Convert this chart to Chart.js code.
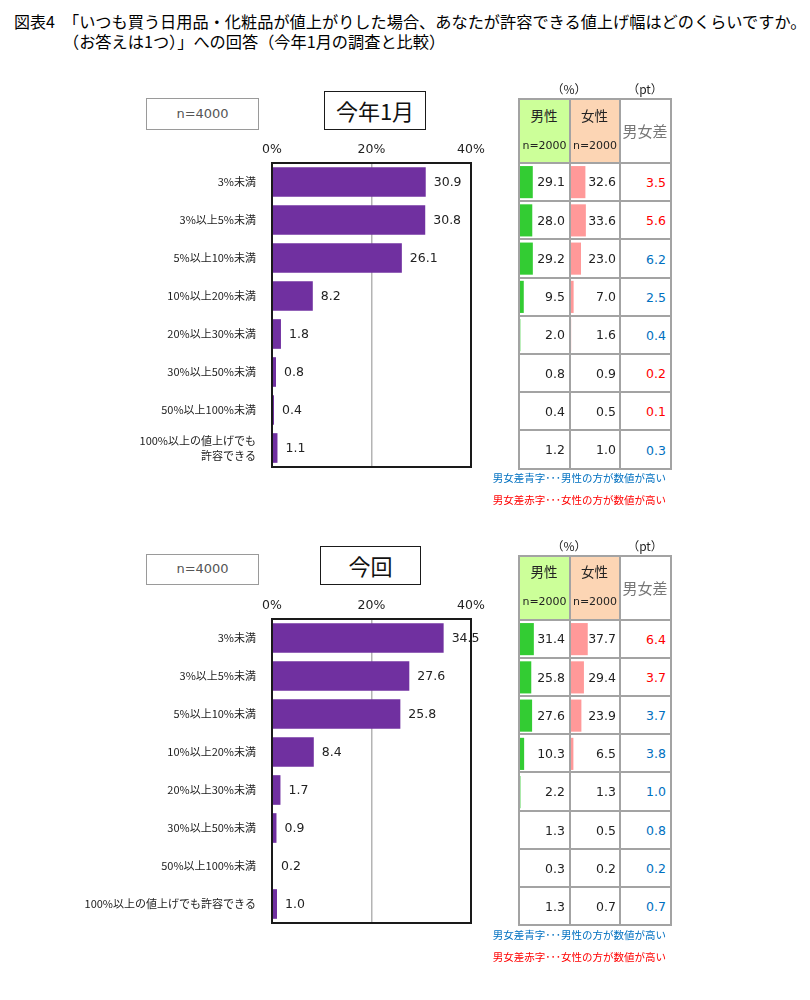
<!DOCTYPE html>
<html><head><meta charset="utf-8">
<script src="https://cdn.jsdelivr.net/npm/chart.js@4.4.1/dist/chart.umd.min.js"></script>
<style>
body{margin:0;background:#fff;}
#page{position:relative;width:810px;height:1000px;overflow:hidden;font-family:'Noto Sans CJK JP',sans-serif;color:#222;background:#fff;}
.a{position:absolute;white-space:nowrap;box-sizing:border-box;}
canvas{position:absolute;}
</style></head><body><div id="page"></div>
<script>
// ---------- DATA ----------
const categoriesJan = ['3%未満','3%以上5%未満','5%以上10%未満','10%以上20%未満','20%以上30%未満','30%以上50%未満','50%以上100%未満',['100%以上の値上げでも','許容できる']];
const categoriesNow = ['3%未満','3%以上5%未満','5%以上10%未満','10%以上20%未満','20%以上30%未満','30%以上50%未満','50%以上100%未満','100%以上の値上げでも許容できる'];
const totalJan  = [30.9, 30.8, 26.1, 8.2, 1.8, 0.8, 0.4, 1.1];
const maleJan   = [29.1, 28.0, 29.2, 9.5, 2.0, 0.8, 0.4, 1.2];
const femaleJan = [32.6, 33.6, 23.0, 7.0, 1.6, 0.9, 0.5, 1.0];
const diffJan   = [3.5, 5.6, 6.2, 2.5, 0.4, 0.2, 0.1, 0.3];
const totalNow  = [34.5, 27.6, 25.8, 8.4, 1.7, 0.9, 0.2, 1.0];
const maleNow   = [31.4, 25.8, 27.6, 10.3, 2.2, 1.3, 0.3, 1.3];
const femaleNow = [37.7, 29.4, 23.9, 6.5, 1.3, 0.5, 0.2, 0.7];
const diffNow   = [6.4, 3.7, 3.7, 3.8, 1.0, 0.8, 0.2, 0.7];
const xTicks = [0, 20, 40];
const titleLine0 = '図表4';
const titleLine1 = '「いつも買う日用品・化粧品が値上がりした場合、あなたが許容できる値上げ幅はどのくらいですか。';
const titleLine2 = '（お答えは1つ）」への回答（今年1月の調査と比較）';
const sampleLabel = 'n=4000';
const periodJan = '今年1月';
const periodNow = '今回';
const headMale = '男性', headFemale = '女性', headDiff = '男女差', headN = 'n=2000';
const unitPct = '（%）', unitPt = '（pt）';
const noteBlue = '男女差青字･･･男性の方が数値が高い';
const noteRed = '男女差赤字･･･女性の方が数値が高い';

// ---------- HELPERS ----------
const page = document.getElementById('page');
const NUMF = "'DejaVu Sans','Noto Sans CJK JP',sans-serif";
const JPF = "'Noto Sans CJK JP',sans-serif";
function div(css, txt){ const e=document.createElement('div'); e.className='a'; Object.assign(e.style, css); if(txt!=null) e.textContent=txt; page.appendChild(e); return e; }
function text(x, y, str, o){
  const h = 30;
  const css = {top:(y-h/2)+'px', height:h+'px', lineHeight:h+'px', fontSize:o.size+'px', color:o.color||'#222', fontFamily:o.family||JPF};
  if(o.align==='left') css.left = x+'px';
  else if(o.align==='right') css.right = (810-x)+'px';
  else { css.left=(x-200)+'px'; css.width='400px'; css.textAlign='center'; }
  return div(css, str);
}
function box(l,t,w,h,border,str,size,color){
  return div({left:l+'px',top:t+'px',width:w+'px',height:h+'px',border:border,textAlign:'center',lineHeight:(h-3)+'px',fontSize:size+'px',color:color,fontFamily:NUMF}, str);
}

// ---------- TITLE ----------
text(14, 21, titleLine0, {size:16, align:'left', color:'#000'});
text(63, 21, titleLine1, {size:16.2, align:'left', color:'#000'});
text(63, 41, titleLine2, {size:16.2, align:'left', color:'#000'});

// ---------- MAIN CHARTS ----------
const valueLabels = {
  id:'valueLabels',
  afterDatasetsDraw(chart){
    const ctx = chart.ctx; const meta = chart.getDatasetMeta(0); const data = chart.data.datasets[0].data;
    ctx.save(); ctx.font = '12.5px ' + NUMF; ctx.fillStyle = '#222'; ctx.textAlign='left'; ctx.textBaseline='middle';
    meta.data.forEach((bar,i)=>{ ctx.fillText(data[i].toFixed(1), bar.x + 8, bar.y + 1); });
    ctx.restore();
  },
  afterDraw(chart){
    const a = chart.chartArea, ctx = chart.ctx;
    ctx.save(); ctx.strokeStyle='#1a1a1a'; ctx.lineWidth=2;
    ctx.strokeRect(a.left, a.top, a.right-a.left, a.bottom-a.top); ctx.restore();
  }
};
function mainChart(top, labels, values){
  const c = document.createElement('canvas'); c.width=490; c.height=345;
  c.style.left='0px'; c.style.top=top+'px'; page.appendChild(c);
  new Chart(c, {
    type:'bar',
    data:{labels:labels, datasets:[{data:values, backgroundColor:'#7030a0', borderWidth:0, barPercentage:0.78, categoryPercentage:1}]},
    options:{
      responsive:false, animation:false, devicePixelRatio:1, indexAxis:'y',
      layout:{padding:{left:0,top:0,right:19,bottom:8}},
      plugins:{legend:{display:false}, tooltip:{enabled:false}},
      scales:{
        x:{position:'top', min:xTicks[0], max:xTicks[xTicks.length-1],
           afterBuildTicks(s){ s.ticks = xTicks.map(v=>({value:v})); },
           ticks:{callback:v=>v+'%', font:{size:12.5, family:NUMF}, color:'#222', padding:6, maxRotation:0},
           grid:{drawTicks:false, lineWidth:1.5, color:ctx=> (ctx.tick && ctx.tick.value===20) ? '#b4b4b4' : 'rgba(0,0,0,0)'},
           border:{display:false},
           afterFit(s){ s.height = 33; s.paddingLeft = 0; s.paddingRight = 0; }},
        y:{ticks:{font:{size:11, family:JPF, lineHeight:1.35}, color:'#222', padding:16},
           grid:{display:false, drawTicks:false}, border:{display:false},
           afterFit(s){ s.width = 272; s.paddingTop = 0; s.paddingBottom = 0; }}
      }
    },
    plugins:[valueLabels]
  });
}
mainChart(130, categoriesJan, totalJan);
mainChart(586, categoriesNow, totalNow);

// label boxes
box(146, 98, 113, 32, '1.5px solid #9a9a9a', sampleLabel, 13, '#555');
box(324, 91, 102, 39, '1.5px solid #1a1a1a', periodJan, 22, '#111').style.fontFamily=JPF;
box(146, 554, 113, 31, '1.5px solid #9a9a9a', sampleLabel, 13, '#555');
box(320, 546, 101, 39, '1.5px solid #1a1a1a', periodNow, 22, '#111').style.fontFamily=JPF;

// ---------- TABLES ----------
const cellText = {
  id:'cellText',
  afterDatasetsDraw(chart){
    const ctx = chart.ctx; const meta = chart.getDatasetMeta(0); const data = chart.data.datasets[0].data;
    ctx.save(); ctx.font = '12.5px ' + NUMF; ctx.fillStyle='#222'; ctx.textAlign='right'; ctx.textBaseline='middle';
    meta.data.forEach((bar,i)=>{ ctx.fillText(data[i].toFixed(1), chart.chartArea.left + 45, bar.y + 1); });
    ctx.restore();
  }
};
function dataBarChart(left, top, height, values, color){
  const c = document.createElement('canvas'); c.width=48; c.height=height;
  c.style.left=left+'px'; c.style.top=top+'px'; page.appendChild(c);
  new Chart(c, {
    type:'bar',
    data:{labels:values.map((v,i)=>i), datasets:[{data:values, backgroundColor:color, borderWidth:0, barPercentage:0.84, categoryPercentage:1}]},
    options:{responsive:false, animation:false, devicePixelRatio:1, indexAxis:'y',
      layout:{padding:0}, plugins:{legend:{display:false}, tooltip:{enabled:false}},
      scales:{x:{display:false, min:1.3, max:1.3 + 48/0.46}, y:{display:false}}},
    plugins:[cellText]
  });
}
function table(top, male, female, diff){
  const xs = [518, 568.5, 619, 669.5];
  const headH = 64, rowH = 38.2, n = male.length;
  const bottom = top + headH + rowH*n;
  div({left:'520px', top:(top+2)+'px', width:'48.5px', height:(headH-2)+'px', background:'#ccff99'});
  div({left:'570.5px', top:(top+2)+'px', width:'48.5px', height:(headH-2)+'px', background:'#fcd5b4'});
  const lc = '#a3a3a3';
  xs.forEach(x=>div({left:x+'px', top:top+'px', width:'2px', height:(bottom-top+2)+'px', background:lc}));
  const ys = [top, top+headH]; for(let i=1;i<=n;i++) ys.push(top+headH+rowH*i);
  ys.forEach(y=>div({left:'518px', top:y+'px', width:'153.5px', height:'2px', background:lc}));
  text(544, top+16.5, headMale, {size:13.5});
  text(594.5, top+16.5, headFemale, {size:13.5});
  text(544.5, top+47.5, headN, {size:11, family:NUMF});
  text(595, top+47.5, headN, {size:11, family:NUMF});
  text(645, top+33, headDiff, {size:15, color:'#777'});
  text(569, top-9, unitPct, {size:12});
  text(645, top-9, unitPt, {size:12});
  const rowTop = top + headH + 1;
  dataBarChart(520, rowTop, Math.round(rowH*n), male, '#33cc33');
  dataBarChart(571, rowTop, Math.round(rowH*n), female, '#ff9999');
  diff.forEach((d,i)=>{
    const col = female[i] > male[i] ? '#ff0000' : '#0070c0';
    text(666, rowTop + rowH*(i+0.5) + 1, d.toFixed(1), {size:12.5, align:'right', color:col, family:NUMF});
  });
  text(666, top+380, noteBlue, {size:10.5, align:'right', color:'#0070c0'});
  text(666, top+402, noteRed, {size:10.5, align:'right', color:'#ff0000'});
}
table(98, maleJan, femaleJan, diffJan);
table(554.5, maleNow, femaleNow, diffNow);
</script></body></html>
